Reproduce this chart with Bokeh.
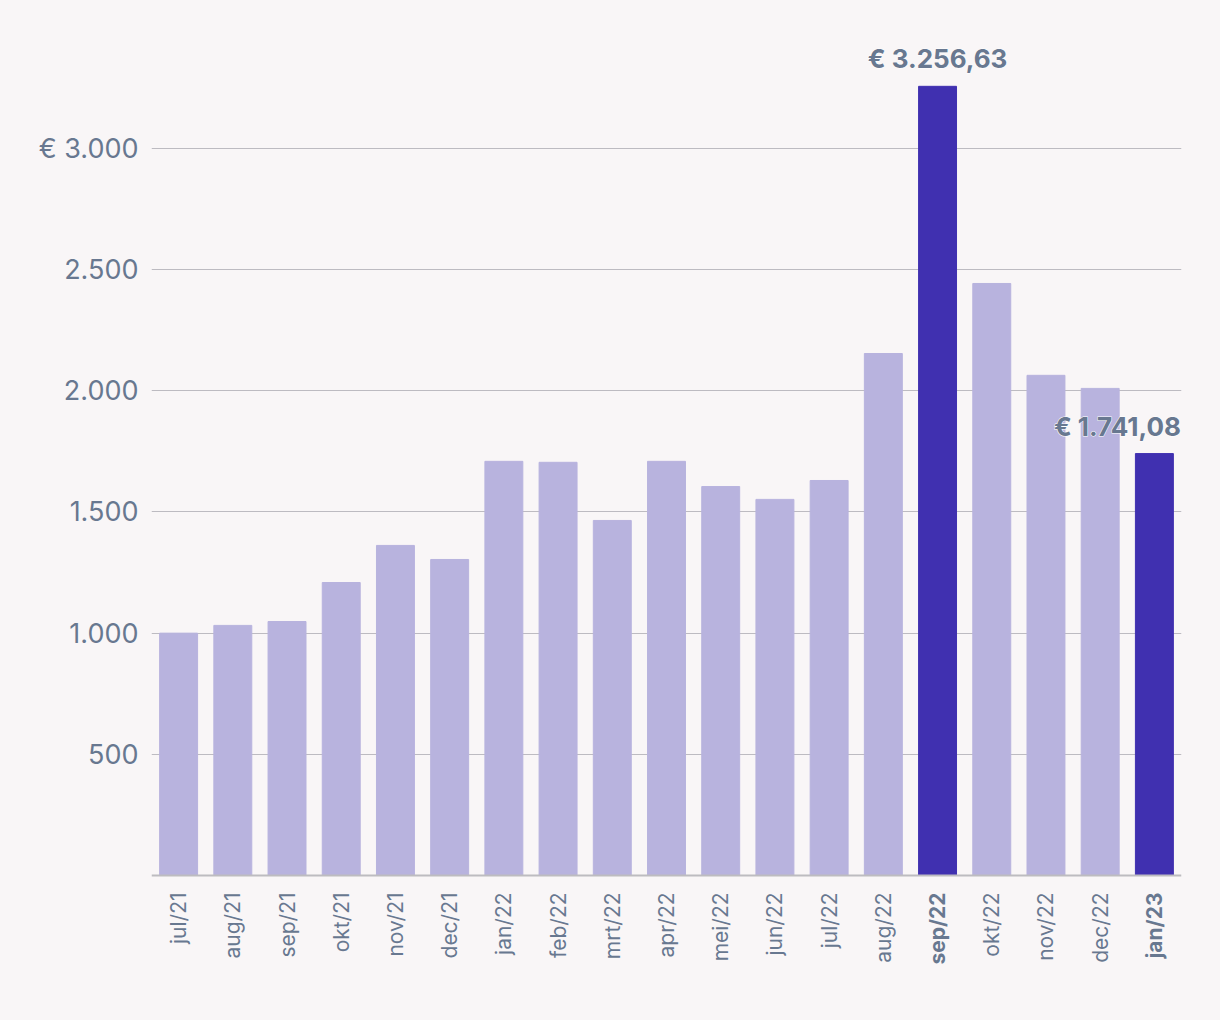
from math import pi
from bokeh.plotting import figure
from bokeh.models import ColumnDataSource, FixedTicker, LabelSet, Range1d, Span
from bokeh.core.properties import value
from bokeh.embed import file_html
from bokeh.resources import INLINE

months = ["jul/21", "aug/21", "sep/21", "okt/21", "nov/21", "dec/21", "jan/22", "feb/22",
          "mrt/22", "apr/22", "mei/22", "jun/22", "jul/22", "aug/22", "sep/22", "okt/22",
          "nov/22", "dec/22", "jan/23"]
amounts = [1000, 1032, 1048, 1209, 1362, 1304, 1709, 1705, 1465, 1709, 1605, 1552, 1630,
           2154, 3256.63, 2443, 2064, 2010, 1741.08]
highlighted = ["sep/22", "jan/23"]
highlight_labels = ["€ 3.256,63", "€ 1.741,08"]
y_ticks = [500, 1000, 1500, 2000, 2500, 3000]
y_tick_labels = ["500", "1.000", "1.500", "2.000", "2.500", "€ 3.000"]

BG = "#f9f6f7"
LIGHT = "#b8b3de"
DARK = "#4030b0"
TEXT = "#687890"
FONT = "Inter"

colors = [DARK if m in highlighted else LIGHT for m in months]
styles = ["bold" if m in highlighted else "normal" for m in months]
src = ColumnDataSource(dict(month=months, amount=amounts, color=colors,
                            style=styles, base=[0] * len(months)))

p = figure(x_range=months, y_range=Range1d(-516, 3487), width=1204, height=1004,
           output_backend="svg", toolbar_location=None,
           min_border_left=151, min_border_right=23, min_border_top=30, min_border_bottom=4,
           background_fill_color=BG, border_fill_color=BG, outline_line_color=None)
p.x_range.range_padding = 0

p.vbar(x="month", top="amount", width=0.7, color="color", source=src)

# y axis
p.yaxis.ticker = FixedTicker(ticks=y_ticks)
p.yaxis.major_label_overrides = {t: l for t, l in zip(y_ticks, y_tick_labels)}
p.yaxis.axis_line_color = None
p.yaxis.major_tick_line_color = None
p.yaxis.minor_tick_line_color = None
p.yaxis.major_label_text_font = FONT
p.yaxis.major_label_text_font_size = "27px"
p.yaxis.major_label_text_color = TEXT
p.yaxis.major_label_standoff = 7
p.ygrid.grid_line_color = "#bdbbc1"
p.ygrid.grid_line_width = 1.2
p.xgrid.grid_line_color = None

# x axis: baseline + month labels drawn in the frame below zero
p.xaxis.visible = False
p.add_layout(Span(location=0, dimension="width", line_color="#bdbcc0", line_width=2))
p.text(x="month", y="base", text="month", source=src, angle=pi / 2,
       text_align="right", text_baseline="middle", y_offset=17,
       text_font=value(FONT), text_font_size=value("21px"),
       text_font_style="style", text_color=TEXT)

# value labels
val_amounts = [amounts[months.index(m)] for m in highlighted]
val_src = ColumnDataSource(dict(month=highlighted, amount=val_amounts, text=highlight_labels,
                                xoff=[0, -37]))
for outline in ("#ffffff", None):
    p.add_layout(LabelSet(x="month", y="amount", text="text", source=val_src,
                          x_offset="xoff", y_offset=12,
                          text_align="center", text_baseline="bottom",
                          text_font=value(FONT), text_font_size=value("26px"),
                          text_font_style=value("bold"), text_color=value(TEXT),
                          text_outline_color=value(outline) if outline else None))

html = file_html(p, INLINE)
html = html.replace("<head>", "<head><style>body{background:%s;}</style>" % BG, 1)
open("out.html", "w").write(html)
